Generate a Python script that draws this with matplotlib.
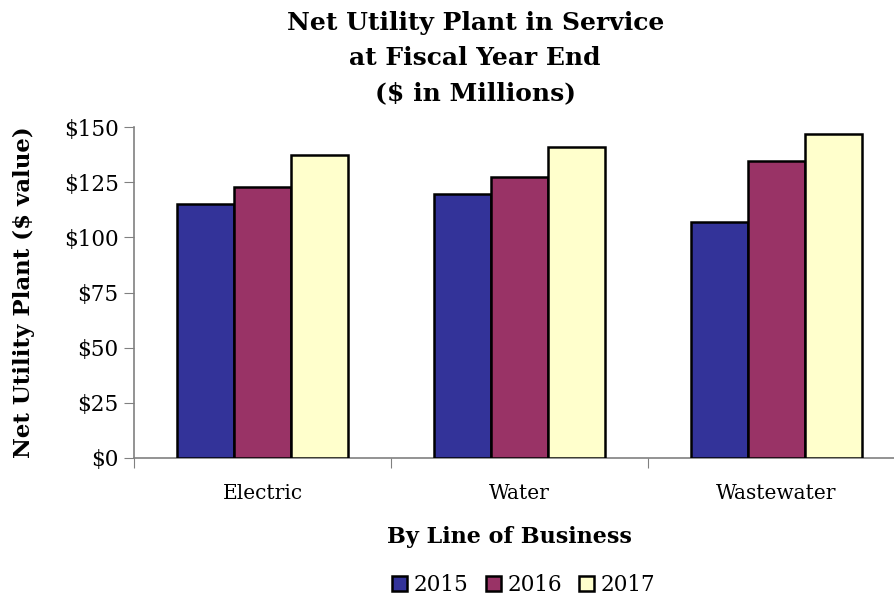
import numpy as np
import matplotlib.pyplot as plt
from matplotlib.ticker import FuncFormatter

# Chart data
categories = ['Electric', 'Water', 'Wastewater']
years = ['2015', '2016', '2017']
values_2015 = [115, 119.5, 107]
values_2016 = [123, 127.5, 134.5]
values_2017 = [137.5, 141, 147]
colors = ['#333399', '#993366', '#FFFFCC']

plt.rcParams['font.family'] = ['DejaVu Serif']

fig = plt.figure(figsize=(8.95, 6.0), dpi=100)
ax = fig.add_axes([0.1497, 0.2367, 0.8615, 0.5513])

x = np.arange(len(categories))
width = 0.222
series = [values_2015, values_2016, values_2017]
for i, (vals, col, yr) in enumerate(zip(series, colors, years)):
    ax.bar(x + (i - 1) * width, vals, width, color=col, edgecolor='black',
           linewidth=1.8, label=yr, zorder=3)

ax.set_xlim(-0.5, 2.5)
ax.set_ylim(0, 150)
ax.set_yticks(np.arange(0, 151, 25))
ax.yaxis.set_major_formatter(FuncFormatter(lambda v, p: f'${v:.0f}'))

# category labels between boundary ticks
ax.set_xticks([-0.5, 0.5, 1.5, 2.5])
ax.set_xticklabels([])
ax.set_xticks(x, minor=True)
ax.set_xticklabels(categories, minor=True)
ax.tick_params(axis='x', which='minor', length=0, labelsize=14.5, pad=19)
ax.tick_params(axis='x', which='major', length=7, color='#808080')
ax.tick_params(axis='y', length=7, color='#808080', labelsize=15.5, pad=4)

for side in ['top', 'right']:
    ax.spines[side].set_visible(False)
for side in ['left', 'bottom']:
    ax.spines[side].set_color('#808080')
    ax.spines[side].set_linewidth(1.2)

ax.set_ylabel('Net Utility Plant ($ value)', fontsize=16.5, fontweight='bold')
ax.yaxis.set_label_coords(-0.128, 0.5)
ax.set_xlabel('By Line of Business', fontsize=16, fontweight='bold')
ax.xaxis.set_label_coords(0.487, -0.205)

fig.text(0.531, 0.982, 'Net Utility Plant in Service\nat Fiscal Year End\n($ in Millions)',
         ha='center', va='top', fontsize=18, fontweight='bold', linespacing=1.6)

handles, labels = ax.get_legend_handles_labels()
fig.legend(handles, labels, loc='center', bbox_to_anchor=(0.585, 0.025), ncol=3,
           frameon=False, fontsize=15.5, handlelength=0.7, handleheight=0.7,
           handletextpad=0.3, columnspacing=0.8)

fig.savefig('out.png', dpi=100)
